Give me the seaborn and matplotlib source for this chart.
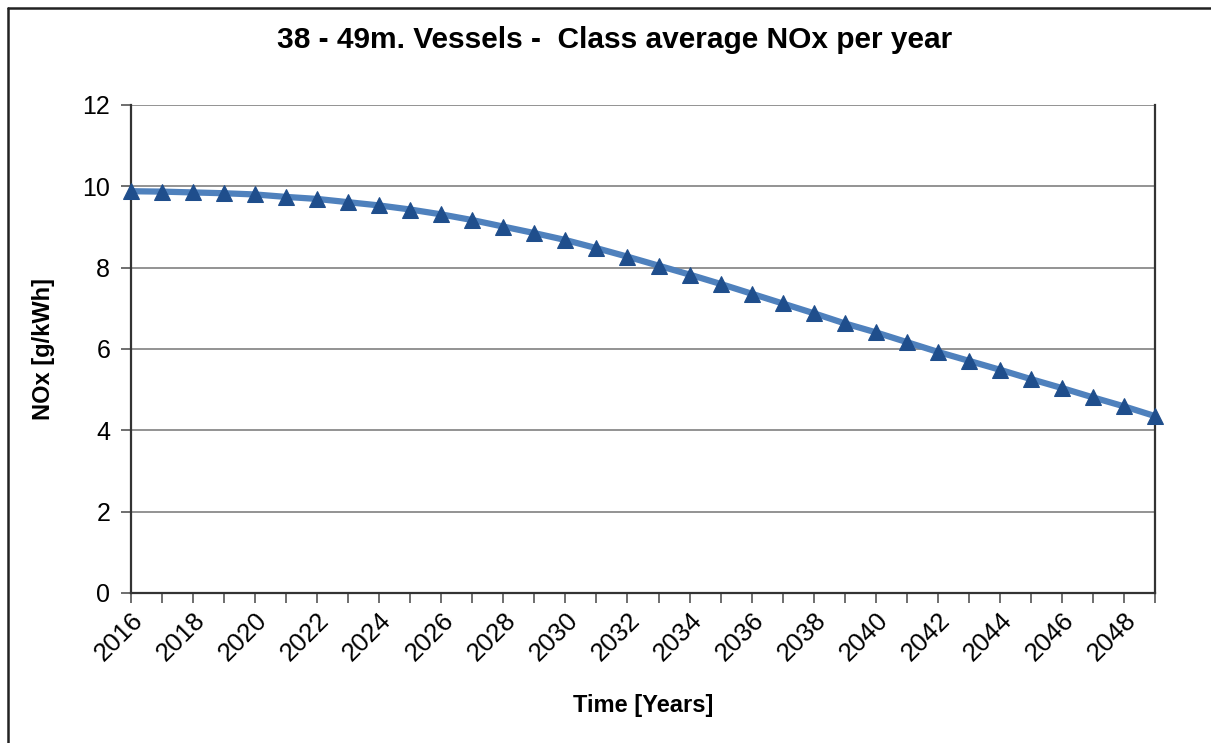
import matplotlib
matplotlib.use("Agg")
import matplotlib.pyplot as plt
from matplotlib.lines import Line2D
import seaborn as sns
import pandas as pd

years = list(range(2016, 2050))
nox = [9.88, 9.87, 9.85, 9.83, 9.80, 9.74, 9.69, 9.61, 9.53, 9.43,
       9.31, 9.17, 9.01, 8.85, 8.68, 8.48, 8.27, 8.05, 7.83, 7.60,
       7.36, 7.12, 6.88, 6.63, 6.41, 6.17, 5.93, 5.71, 5.49, 5.26,
       5.04, 4.81, 4.59, 4.35]
year_ticks = list(range(2016, 2049, 2))
y_ticks = [0, 2, 4, 6, 8, 10, 12]

sns.set_style("white")
plt.rcParams["font.family"] = ["Liberation Sans", "DejaVu Sans"]
plt.rcParams["text.color"] = "black"
plt.rcParams["axes.labelcolor"] = "black"
plt.rcParams["xtick.color"] = "black"
plt.rcParams["ytick.color"] = "black"

df = pd.DataFrame({"year": years, "nox": nox})

fig = plt.figure(figsize=(12.11, 7.43), dpi=100)
ax = fig.add_axes([131 / 1211, 150 / 743, 1024 / 1211, 488 / 743])

for v in y_ticks[1:]:
    ax.axhline(v, color="#8a8a8a", lw=1.3, zorder=1)

sns.lineplot(data=df, x="year", y="nox", ax=ax, color="#4f81bd", lw=4.5,
             marker="^", markersize=11, markerfacecolor="#1f4e8c",
             markeredgecolor="#1f4e8c", zorder=3, clip_on=False)

ax.set_xlim(2016, 2049)
ax.set_ylim(0, 12)
ax.set_xticks(years, minor=True)
ax.set_xticks(year_ticks)
ax.set_xticklabels([str(y) for y in year_ticks], rotation=45, ha="right",
                   rotation_mode="anchor", fontsize=18.5)
ax.set_yticks(y_ticks)
ax.set_yticklabels([str(v) for v in y_ticks], fontsize=18)
ax.tick_params(axis="x", which="both", direction="out", length=7, width=1.2,
               color="#555555", bottom=True, pad=4)
ax.tick_params(axis="y", direction="out", length=7, width=1.2,
               color="#555555", left=True, pad=8)

for side in ["left", "bottom", "right"]:
    ax.spines[side].set_color("#333333")
    ax.spines[side].set_linewidth(1.6)
ax.spines["top"].set_visible(False)

ax.set_xlabel("Time [Years]", fontsize=17, fontweight="bold", labelpad=20)
ax.set_ylabel("NOx [g/kWh]", fontsize=17, fontweight="bold", labelpad=20)

fig.text(615 / 1211, 1 - 40 / 743, "38 - 49m. Vessels -  Class average NOx per year",
         ha="center", va="center", fontsize=21.5, fontweight="bold")

# outer chart border: only left and top edges fall inside the image
bx, by = 8 / 1211, 1 - 8 / 743
fig.add_artist(Line2D([bx, bx], [0, by], transform=fig.transFigure,
                      color="#222222", lw=1.8))
fig.add_artist(Line2D([bx, 1], [by, by], transform=fig.transFigure,
                      color="#222222", lw=1.8))

fig.savefig("out.png", dpi=100)
